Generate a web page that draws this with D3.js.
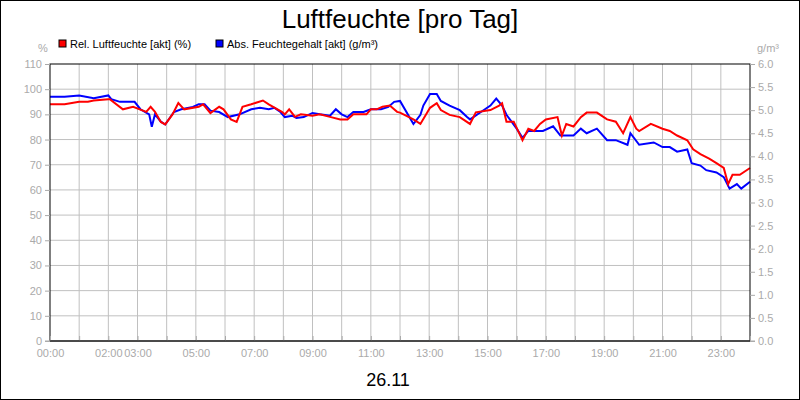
<!DOCTYPE html><html><head><meta charset="utf-8"><script src="https://cdn.jsdelivr.net/npm/d3@7"></script>
<style>body{margin:0}svg{font-family:Arial,"Liberation Sans",sans-serif}</style></head><body><svg width="800" height="400"></svg><script>
const leftTicks=[0,10,20,30,40,50,60,70,80,90,100,110];
const rightTicks=[0,0.5,1,1.5,2,2.5,3,3.5,4,4.5,5,5.5,6];
const xTickLabels=["00:00","02:00","03:00","05:00","07:00","09:00","11:00","13:00","15:00","17:00","19:00","21:00","23:00"];
const xTickHours=[0,2,3,5,7,9,11,13,15,17,19,21,23];
const relHum=[[0,94],[0.5,94],[1,95],[1.3,95],[1.5,95.5],[2,96],[2.05,96],[2.5,92],[2.85,93],[3.3,91],[3.45,93],[3.6,91],[3.8,87],[3.95,86],[4.2,90],[4.4,94.5],[4.6,92],[5.1,93],[5.25,94],[5.5,90.5],[5.8,93],[5.95,92],[6.2,88],[6.4,87],[6.6,93],[6.9,94],[7.3,95.5],[7.5,94],[7.8,92],[7.95,91],[8.05,90],[8.2,92],[8.4,89],[8.6,90],[9.0,89.5],[9.25,90],[9.6,89],[9.95,88],[10.2,88],[10.4,90],[10.85,90],[11,92],[11.2,92],[11.4,93],[11.65,93.5],[11.9,91],
[12,90.7],[12.46,88],[12.7,86.2],[13.03,92.6],[13.26,94.4],[13.4,91.7],[13.7,89.8],[14.05,88.9],[14.4,86.2],[14.6,90.8],[15.1,91.7],[15.4,93.5],[15.5,94.4],[15.65,87.1],[15.9,87.1],[16.2,79.7],[16.4,84.3],[16.6,83.4],[16.8,86.2],[17.0,88],[17.4,88.9],[17.55,81.6],[17.7,86.2],[17.95,85.2],[18.2,88.9],[18.4,90.7],[18.75,90.7],[19.1,88],[19.4,87.1],[19.65,82.5],[19.9,88.9],[20.1,84.3],[20.2,83.4],[20.6,86.2],[21.0,84.3],[21.25,83.4],[21.5,81.6],[21.85,79.7],[22.05,76.1],[22.3,74.2],[22.6,72.4],[22.85,70.6],[23.1,68.7],[23.25,62.3],[23.4,66],[23.65,66],[24,68.7]];
const absHum=[[0,5.29],[0.5,5.29],[1,5.32],[1.5,5.26],[2,5.32],[2.1,5.24],[2.4,5.18],[2.9,5.18],[3.1,5.02],[3.4,4.91],[3.49,4.64],[3.6,4.91],[3.8,4.75],[3.95,4.69],[4.25,4.96],[4.5,5.02],[4.9,5.07],[5.1,5.13],[5.3,5.13],[5.5,4.99],[5.8,4.96],[6.1,4.85],[6.5,4.91],[6.9,5.02],[7.2,5.05],[7.5,5.02],[7.7,5.05],[7.9,4.96],[8.05,4.85],[8.3,4.88],[8.45,4.83],[8.7,4.85],[9.0,4.94],[9.25,4.91],[9.6,4.88],[9.8,5.02],[10.0,4.91],[10.2,4.85],[10.4,4.96],[10.75,4.96],[11,5.02],[11.35,5.02],[11.6,5.07],[11.8,5.18],[12,5.2],
[12.46,4.7],[12.7,4.9],[12.8,5.1],[13.03,5.35],[13.26,5.35],[13.4,5.2],[13.7,5.1],[14.05,5.0],[14.3,4.85],[14.4,4.8],[14.75,4.95],[15.1,5.1],[15.3,5.25],[15.5,5.1],[15.65,4.9],[16.0,4.6],[16.2,4.4],[16.4,4.55],[16.9,4.55],[17.25,4.65],[17.5,4.45],[17.95,4.45],[18.2,4.6],[18.4,4.5],[18.75,4.6],[19.1,4.35],[19.4,4.35],[19.8,4.25],[19.9,4.5],[20.2,4.25],[20.7,4.3],[21.0,4.2],[21.25,4.2],[21.5,4.1],[21.85,4.15],[22.0,3.85],[22.3,3.8],[22.5,3.7],[22.85,3.65],[23.1,3.55],[23.3,3.3],[23.55,3.4],[23.7,3.3],[24,3.45]];
const svg=d3.select("svg");
const L=50,R=750,T=64,B=341,gray="#aaa";
const x=d3.scaleLinear().domain([0,24]).range([L,R]);
const yl=d3.scaleLinear().domain([0,110]).range([B,T]);
const yr=d3.scaleLinear().domain([0,6]).range([B,T]);
svg.append("rect").attr("x",0.5).attr("y",0.5).attr("width",799).attr("height",399).attr("fill","#fff").attr("stroke","#000");
const g=svg.append("g");
g.selectAll(".vg").data(d3.range(1,24)).join("line").attr("x1",d=>x(d)).attr("x2",d=>x(d)).attr("y1",T).attr("y2",B).attr("stroke","#c0c0c0");
g.selectAll(".hg").data(leftTicks.slice(1,-1)).join("line").attr("x1",L).attr("x2",R).attr("y1",d=>yl(d)).attr("y2",d=>yl(d)).attr("stroke","#c0c0c0");
const line=(ys)=>d3.line().x(d=>x(d[0])).y(d=>ys(d[1]));
g.append("path").datum(absHum).attr("d",line(yr)).attr("fill","none").attr("stroke","#0000ff").attr("stroke-width",2);
g.append("path").datum(relHum).attr("d",line(yl)).attr("fill","none").attr("stroke","#ff0000").attr("stroke-width",2);
svg.append("rect").attr("x",L).attr("y",T).attr("width",R-L).attr("height",B-T).attr("fill","none").attr("stroke","#000");
const la=svg.append("g").attr("transform",`translate(${L},0)`).call(d3.axisLeft(yl).tickValues(leftTicks).tickSize(5).tickFormat(d3.format("d")));
const ra=svg.append("g").attr("transform",`translate(${R},0)`).call(d3.axisRight(yr).tickValues(rightTicks).tickSize(5).tickFormat(d3.format(".1f")));
const xa=svg.append("g").attr("transform",`translate(0,${B})`).call(d3.axisBottom(x).tickValues(d3.range(0,25)).tickSize(5).tickFormat(d=>{const i=xTickHours.indexOf(d);return i>=0?xTickLabels[i]:"";}));
[la,ra,xa].forEach(a=>{a.select(".domain").remove();a.selectAll("line").attr("stroke",gray);a.selectAll("text").attr("fill",gray).attr("font-size",11).attr("font-family","Arial,Liberation Sans");});
xa.selectAll("line").attr("transform","translate(0,-5)").attr("y2",5);
xa.selectAll("text").attr("dy","0.9em").attr("y",6);
svg.append("line").attr("x1",L-5).attr("x2",R+5).attr("y1",B).attr("y2",B).attr("stroke",gray).attr("stroke-width",1);
svg.append("line").attr("x1",L).attr("x2",R).attr("y1",B).attr("y2",B).attr("stroke","#000");
svg.append("text").attr("x",400).attr("y",28).attr("text-anchor","middle").attr("font-size",26).text("Luftfeuchte [pro Tag]");
svg.append("text").attr("x",388).attr("y",386).attr("text-anchor","middle").attr("font-size",18).text("26.11");
svg.append("text").attr("x",43).attr("y",52).attr("text-anchor","middle").attr("font-size",11).attr("fill",gray).text("%");
svg.append("text").attr("x",768).attr("y",52).attr("text-anchor","middle").attr("font-size",11).attr("fill",gray).text("g/m³");
const leg=[["Rel. Luftfeuchte [akt] (%)","#ff0000",59],["Abs. Feuchtegehalt [akt] (g/m³)","#0000ff",216]];
leg.forEach(([t,c,lx])=>{svg.append("rect").attr("x",lx).attr("y",40).attr("width",7).attr("height",7).attr("fill",c).attr("stroke","#000");
svg.append("text").attr("x",lx+11).attr("y",48).attr("font-size",11).text(t);});
</script></body></html>
